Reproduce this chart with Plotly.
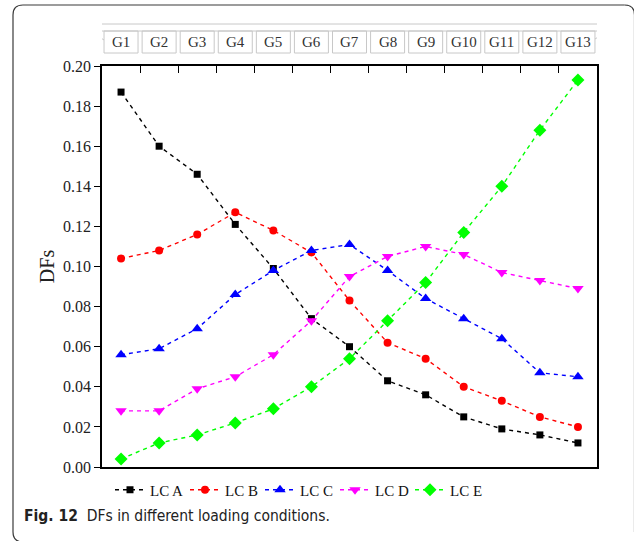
import plotly.graph_objects as go

girders = ["G1", "G2", "G3", "G4", "G5", "G6", "G7", "G8", "G9", "G10", "G11", "G12", "G13"]
lc_a = [0.187, 0.160, 0.146, 0.121, 0.099, 0.074, 0.060, 0.043, 0.036, 0.025, 0.019, 0.016, 0.012]
lc_b = [0.104, 0.108, 0.116, 0.127, 0.118, 0.107, 0.083, 0.062, 0.054, 0.040, 0.033, 0.025, 0.020]
lc_c = [0.056, 0.059, 0.069, 0.086, 0.098, 0.108, 0.111, 0.098, 0.084, 0.074, 0.064, 0.047, 0.045]
lc_d = [0.028, 0.028, 0.039, 0.045, 0.056, 0.073, 0.095, 0.105, 0.110, 0.106, 0.097, 0.093, 0.089]
lc_e = [0.004, 0.012, 0.016, 0.022, 0.029, 0.040, 0.054, 0.073, 0.092, 0.117, 0.140, 0.168, 0.193]
y_ticks = [0.00, 0.02, 0.04, 0.06, 0.08, 0.10, 0.12, 0.14, 0.16, 0.18, 0.20]

W, H = 634, 541
L, R, T, B = 102, 37, 66, 74
PW, PH = W - L - R, H - T - B
SERIF = "Liberation Serif, Times New Roman, serif"

def px(x):
    return (x - L) / PW

def py(y):
    return (H - B - y) / PH

xs = list(range(1, len(girders) + 1))
series = [
    ("LC A", lc_a, "#000000", "square", 7),
    ("LC B", lc_b, "#ff0000", "circle", 8),
    ("LC C", lc_c, "#0000ff", "triangle-up", 10),
    ("LC D", lc_d, "#ff00ff", "triangle-down", 10),
    ("LC E", lc_e, "#00ff00", "diamond", 10),
]

fig = go.Figure()
for name, vals, col, sym, sz in series:
    fig.add_trace(go.Scatter(
        x=xs, y=vals, name=name, mode="lines+markers",
        line=dict(color=col, width=1.4, dash="4px,4px"),
        marker=dict(symbol=sym, size=sz, color=col),
    ))

shapes = []
bcol = "#3a3a3a"
bx0, by0, bx1, by1, r = 13, 5, 634.5, 542, 10
def seg(xa, ya, xb, yb):
    return dict(type="line", xref="paper", yref="paper", x0=px(xa), y0=py(ya), x1=px(xb), y1=py(yb),
                line=dict(color=bcol, width=1.2))
def corner(xa, ya, xc, yc, xb, yb):
    return dict(type="path", xref="paper", yref="paper",
                path=f"M{px(xa):.5f},{py(ya):.5f} Q{px(xc):.5f},{py(yc):.5f} {px(xb):.5f},{py(yb):.5f}",
                line=dict(color=bcol, width=1.2))
shapes.append(seg(bx0, by0 + r, bx0, by1 - r))
shapes.append(seg(bx0 + r, by0, bx1 - r, by0))
shapes.append(seg(bx0 + r, by1, bx1 - r, by1))
shapes.append(seg(bx1, by0 + r, bx1, by1 - r))
shapes.append(corner(bx0, by0 + r, bx0, by0, bx0 + r, by0))
shapes.append(corner(bx1 - r, by0, bx1, by0, bx1, by0 + r))
shapes.append(corner(bx0, by1 - r, bx0, by1, bx0 + r, by1))

gcol = "#c8c8c8"
step = PW / len(girders)
def dx(p):
    return 0.5 + (p - L) / step
shapes.append(dict(type="rect", xref="x", yref="paper", x0=dx(90), x1=dx(608), y0=py(31), y1=py(24),
                   line=dict(color=gcol, width=1)))
shapes.append(dict(type="line", xref="x", yref="paper", x0=dx(90), x1=dx(104), y0=py(31), y1=py(40),
                   line=dict(color=gcol, width=1)))
shapes.append(dict(type="line", xref="x", yref="paper", x0=dx(608), x1=dx(595), y0=py(31), y1=py(39),
                   line=dict(color=gcol, width=1)))
hw = 17 / step
for i in xs:
    shapes.append(dict(type="rect", xref="x", yref="paper", x0=i - hw, x1=i + hw, y0=py(53), y1=py(31),
                       line=dict(color=gcol, width=1)))

annotations = []
for i, g in zip(xs, girders):
    annotations.append(dict(x=i, y=py(42), xref="x", yref="paper", text=g, showarrow=False,
                            font=dict(family=SERIF, size=15, color="#333333"),
                            xanchor="center", yanchor="middle"))
annotations.append(dict(x=px(22), y=py(516), xref="paper", yref="paper",
                        text="<b>Fig. 12</b>  DFs in different loading conditions.",
                        showarrow=False, xanchor="left", yanchor="middle",
                        font=dict(family="DejaVu Sans Condensed, Open Sans", size=15.5,
                                  color="#222222")))

fig.update_layout(
    width=W, height=H,
    margin=dict(l=L, r=R, t=T, b=B),
    paper_bgcolor="white", plot_bgcolor="white",
    font=dict(family=SERIF, color="#222222"),
    shapes=shapes, annotations=annotations,
    showlegend=True,
    legend=dict(orientation="h", x=px(110), y=py(490), xanchor="left", yanchor="middle",
                font=dict(family=SERIF, size=15, color="#111111"),
                entrywidth=30, entrywidthmode="pixels", bgcolor="rgba(0,0,0,0)",
                itemwidth=30, tracegroupgap=0),
    xaxis=dict(range=[0.5, 13.5], showgrid=False, zeroline=False, showticklabels=False,
               ticks="", showline=True, linecolor="#000000", linewidth=1.5, mirror=True),
    xaxis2=dict(range=[0.5, 13.5], overlaying="x", side="top", showgrid=False, zeroline=False,
                showticklabels=False, ticks="inside", ticklen=7, tickwidth=1.3, tickcolor="#000000",
                tickvals=[i + 0.5 for i in xs[:-1]], showline=False),
    yaxis=dict(range=[0, 0.2], tickvals=y_ticks, tickformat=".2f", showgrid=False, zeroline=False,
               ticks="outside", ticklen=6, tickwidth=1.3, tickcolor="#000000",
               showline=True, linecolor="#000000", linewidth=1.5, mirror=True,
               tickfont=dict(family=SERIF, size=16, color="#222222"),
               title=dict(text="DFs", font=dict(family=SERIF, size=20, color="#222222"),
                          standoff=3)),
)
fig.add_trace(go.Scatter(x=[None], y=[None], xaxis="x2", showlegend=False, hoverinfo="skip"))

fig.write_html("out.html")
